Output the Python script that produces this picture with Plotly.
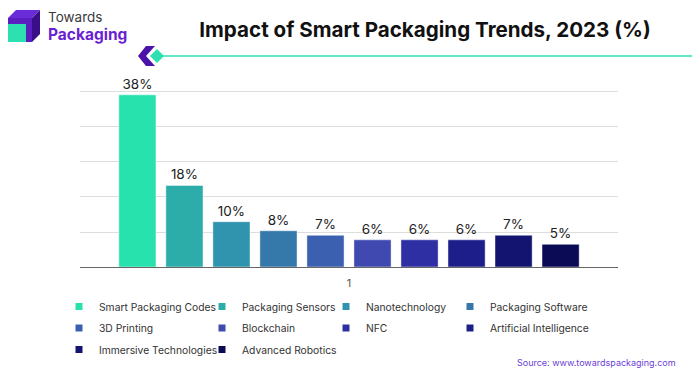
import plotly.graph_objects as go

categories = ["Smart Packaging Codes", "Packaging Sensors", "Nanotechnology", "Packaging Software",
              "3D Printing", "Blockchain", "NFC", "Artificial Intelligence",
              "Immersive Technologies", "Advanced Robotics"]
values = [38, 18, 10, 8, 7, 6, 6, 6, 7, 5]
colors = ["#27E2AC", "#2DADAA", "#3194AE", "#3479AA", "#3A60AF", "#3F49B0",
          "#2E2FA2", "#1E1E8A", "#121470", "#0B0B55"]
x_tick = ["1"]

# legend columns (trace indices)
legend_cols = [[0, 4, 8], [1, 5, 9], [2, 6], [3, 7]]
legend_marker_x = [86, 229, 353, 477]

W, H = 700, 375
OFF = 8  # page body margin offset
L, R, T, B = 80, 618, 88, 267
Y_TOP = 39.51
GRID = 7.726


def px(x):
    return (x - L) / (R - L)


def py(y):
    return (B - y) / (B - T)


fig = go.Figure()
for i, (c, v, col) in enumerate(zip(categories, values, colors)):
    fig.add_trace(go.Bar(
        x=x_tick, y=[v], name=c, marker=dict(color=col, line=dict(color="rgba(255,255,255,0.45)", width=1)),
        text=[f"{v}%"], textposition="outside", cliponaxis=False,
        textfont=dict(family="Inter", size=13.5, color="#222222"),
        showlegend=False, hoverinfo="skip"))

for ci, idxs in enumerate(legend_cols):
    lname = "legend" if ci == 0 else f"legend{ci + 1}"
    for i in idxs:
        fig.add_trace(go.Scatter(
            x=[None], y=[None], mode="markers", name=categories[i],
            marker=dict(symbol="square", size=7, color=colors[i]),
            legend=lname, legendgroup=categories[i], showlegend=True))

legend_common = dict(orientation="v", yanchor="top", xanchor="left", bgcolor="rgba(0,0,0,0)",
                     font=dict(family="Inter", size=10.3, color="#333333"), tracegroupgap=2.5,
                     itemsizing="trace", itemclick=False)
for ci in range(4):
    lname = "legend" if ci == 0 else f"legend{ci + 1}"
    fig.update_layout({lname: dict(x=px(legend_marker_x[ci] - 8 - 19), y=py(292), **legend_common)})

shapes = []
# logo cube
shapes.append(dict(type="path", xref="paper", yref="paper",
                   path=f"M{px(8)},{py(18)} L{px(16)},{py(10)} L{px(40)},{py(10)} L{px(32)},{py(18)} Z",
                   fillcolor="#6A2BD8", line=dict(width=0)))
shapes.append(dict(type="path", xref="paper", yref="paper",
                   path=f"M{px(8)},{py(18)} L{px(32)},{py(18)} L{px(32)},{py(42)} L{px(8)},{py(42)} Z",
                   fillcolor="#5B1FC0", line=dict(width=0)))
shapes.append(dict(type="path", xref="paper", yref="paper",
                   path=f"M{px(32)},{py(18)} L{px(40)},{py(10)} L{px(40)},{py(34)} L{px(32)},{py(42)} Z",
                   fillcolor="#3A0E86", line=dict(width=0)))
shapes.append(dict(type="path", xref="paper", yref="paper",
                   path=f"M{px(8)},{py(24)} L{px(26)},{py(24)} L{px(26)},{py(42)} L{px(8)},{py(42)} Z",
                   fillcolor="#2EE0B0", line=dict(width=0)))
# chevron + line
shapes.append(dict(type="line", xref="paper", yref="paper", x0=px(160), x1=px(700), y0=py(56), y1=py(56),
                   line=dict(color="#2EE0B0", width=1.5)))
shapes.append(dict(type="path", xref="paper", yref="paper",
                   path=f"M{px(146)},{py(46)} L{px(155)},{py(46)} L{px(146)},{py(56)} L{px(155)},{py(66)} L{px(146)},{py(66)} L{px(138)},{py(56)} Z",
                   fillcolor="#4B12A8", line=dict(width=0)))
shapes.append(dict(type="path", xref="paper", yref="paper",
                   path=f"M{px(157)},{py(49)} L{px(164)},{py(56)} L{px(157)},{py(63)} L{px(150)},{py(56)} Z",
                   fillcolor="#2EE0B0", line=dict(width=0)))

annotations = [
    dict(text="Towards", xref="paper", yref="paper", x=px(46), y=py(17), xanchor="left", yanchor="middle",
         showarrow=False, font=dict(family="Inter", size=13.5, color="#3a3a3a")),
    dict(text="<b>Packaging</b>", xref="paper", yref="paper", x=px(46), y=py(34), xanchor="left", yanchor="middle",
         showarrow=False, font=dict(family="Inter", size=15.5, color="#6A1FD0")),
    dict(text="Source: www.towardspackaging.com", xref="paper", yref="paper", x=px(678), y=py(362),
         xanchor="right", yanchor="middle", showarrow=False, font=dict(family="Inter", size=9, color="#6B3FD6")),
]

fig.update_layout(
    width=W, height=H,
    margin=dict(l=L - OFF, r=W - R + OFF, t=T - OFF, b=H - B + OFF, autoexpand=False),
    paper_bgcolor="white", plot_bgcolor="white",
    title=dict(text="<b>Impact of Smart Packaging Trends, 2023 (%)</b>", x=(425 - OFF) / W, xanchor="center",
               y=1 - (30 - OFF) / H, yanchor="middle", font=dict(family="Inter", size=20.6, color="#111111")),
    barmode="group", bargap=0.126, bargroupgap=0.21,
    xaxis=dict(type="category", showline=True, linecolor="#666666", linewidth=1, ticks="",
               ticklabelstandoff=6,
               tickfont=dict(family="Inter", size=11, color="#555555"), showgrid=False),
    yaxis=dict(range=[0, Y_TOP], dtick=GRID, showticklabels=False, gridcolor="#DDDDDD",
               gridwidth=1, zeroline=False, showline=False),
    shapes=shapes, annotations=annotations,
)

fig.write_html("out.html")
